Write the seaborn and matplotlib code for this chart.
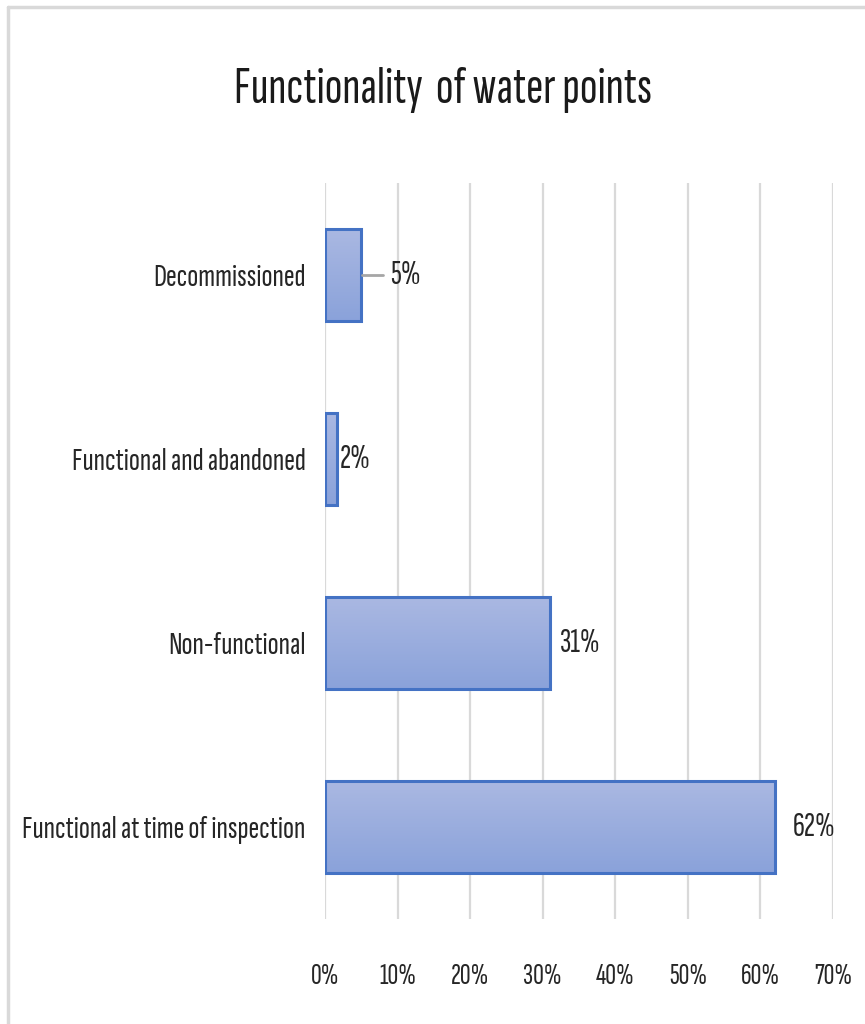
import numpy as np
import pandas as pd
import matplotlib
matplotlib.use("Agg")
import matplotlib.pyplot as plt
from matplotlib import font_manager
from matplotlib.lines import Line2D
from matplotlib.colors import LinearSegmentedColormap
from matplotlib.textpath import TextPath
from matplotlib.font_manager import FontProperties
import seaborn as sns

categories = ["Decommissioned", "Functional and abandoned", "Non-functional",
              "Functional at time of inspection"]
values = [5.0, 1.7, 31.0, 62.0]
value_labels = ["5%", "2%", "31%", "62%"]
x_ticks = [0, 10, 20, 30, 40, 50, 60, 70]
x_tick_labels = ["0%", "10%", "20%", "30%", "40%", "50%", "60%", "70%"]
title = "Functionality  of water points"

sns.set_theme(style="white")
names = {f.name for f in font_manager.fontManager.ttflist}
main_font = next((n for n in ["Sofia Sans Extra Condensed", "Fira Sans Extra Condensed",
                              "Roboto Condensed"] if n in names), "DejaVu Sans")
plt.rcParams["font.family"] = [main_font, "DejaVu Sans"]
plt.rcParams["font.weight"] = 300


def fit_size(text, target_px, ref=20):
    """font size (pt at 100 dpi) whose rendered width is target_px"""
    tp = TextPath((0, 0), text, size=ref,
                  prop=FontProperties(family=main_font, weight=300))
    w = tp.get_extents().width  # in points at size ref
    return ref * target_px / (w * 100 / 72)


title_fs = fit_size(title, 413)
cat_fs = fit_size(categories[3], 280)
tick_fs = fit_size("70%", 36)
val_fs = fit_size("31%", 38)

df = pd.DataFrame({"category": categories, "value": values})

fig = plt.figure(figsize=(8.65, 10.24), dpi=100)
ax = fig.add_axes([325/865, 1-919/1024, (833-325)/865, (919-183)/1024])

sns.barplot(data=df, y="category", x="value", orient="h", ax=ax, width=0.5,
            color="#9aaddd", edgecolor="#4472c4", linewidth=2.2, zorder=3)

cmap = LinearSegmentedColormap.from_list("g", ["#aab8e2", "#8aa2da"])
grad = np.linspace(0, 1, 256).reshape(-1, 1)
for p in ax.patches:
    x0, y0 = p.get_x(), p.get_y()
    w, h = p.get_width(), p.get_height()
    im = ax.imshow(grad, cmap=cmap, aspect="auto", extent=[x0, x0 + w, y0 + h, y0],
                   origin="upper", zorder=2.5)
    im.set_clip_path(p)
    p.set_facecolor("none")

ax.set_xlim(0, 70)
ax.set_ylim(3.5, -0.5)
ax.set_xticks(x_ticks)
ax.set_xticklabels(x_tick_labels)
ax.xaxis.grid(True, color="#d9d9d9", linewidth=1.6, zorder=0)
ax.yaxis.grid(False)
for s in ax.spines.values():
    s.set_visible(False)
ax.tick_params(axis="x", length=0, labelsize=tick_fs, colors="#262626", pad=32)
ax.tick_params(axis="y", length=0, labelsize=cat_fs, colors="#262626", pad=14)
ax.set_xlabel("")
ax.set_ylabel("")

label_pad = [4.0, 0.3, 1.4, 2.5]
for i, (v, lab) in enumerate(zip(values, value_labels)):
    ax.text(v + label_pad[i], i, lab, va="center", ha="left", fontsize=val_fs,
            color="#262626", zorder=4)
# leader line for the first label
ax.add_line(Line2D([values[0] + 0.1, values[0] + 3.0], [0, 0], color="#a6a6a6",
                   linewidth=2, zorder=4))

fig.text(443/865, 1-90/1024, title, ha="center", va="center", fontsize=title_fs,
         color="#1a1a1a")

fig.add_artist(Line2D([8/865, 1], [1-7/1024, 1-7/1024], color="#d9d9d9",
                      linewidth=2.5, transform=fig.transFigure))
fig.add_artist(Line2D([8/865, 8/865], [0, 1-7/1024], color="#d9d9d9",
                      linewidth=2.5, transform=fig.transFigure))

fig.savefig("out.png", dpi=100, facecolor="white")
